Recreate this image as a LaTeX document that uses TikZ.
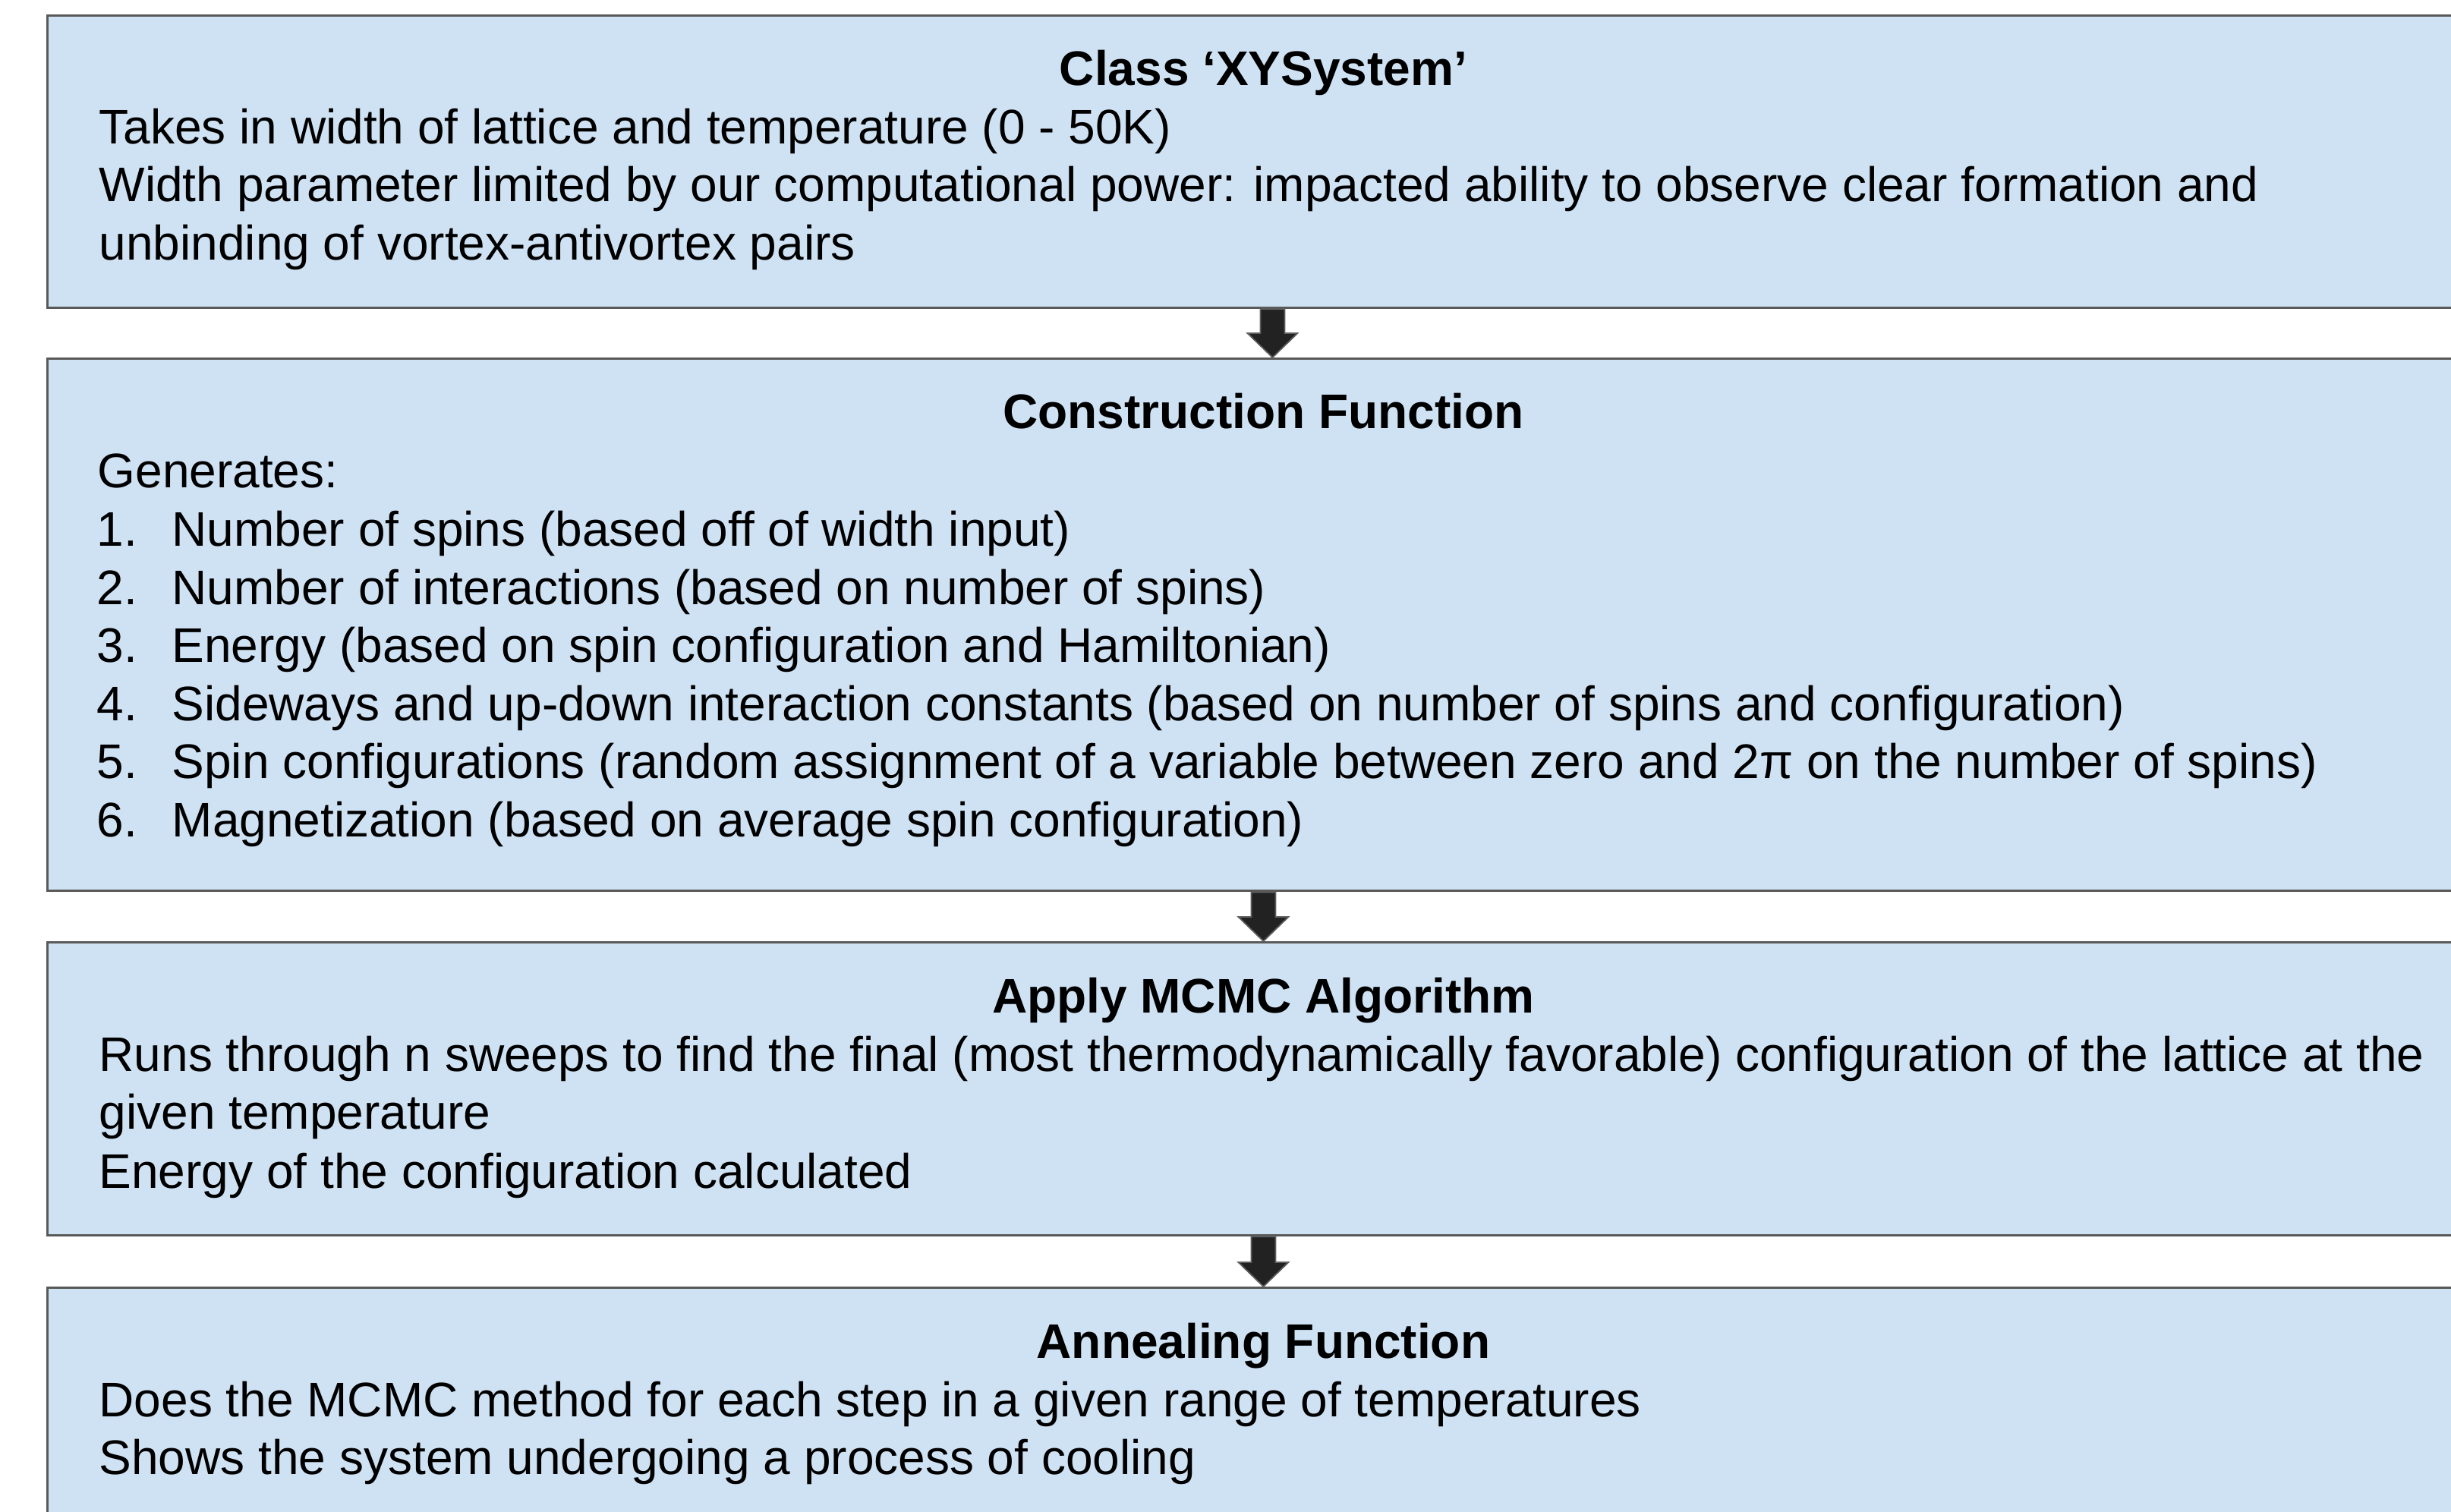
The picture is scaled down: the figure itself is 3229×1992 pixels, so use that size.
\documentclass[tikz,border=0pt]{standalone}
\usepackage{fontspec}
\setmainfont{Liberation Sans}
\usetikzlibrary{calc}
\definecolor{boxfill}{HTML}{CFE2F3}
\definecolor{boxline}{HTML}{595959}
\definecolor{arrowfill}{HTML}{222222}
\definecolor{arrowline}{HTML}{5F5F5F}

% block arrow from the top point #1 down to the tip #2
\newcommand\blockarrow[2]{%
  \filldraw[downarrow]
    ($(#1)+(-16,0)$) -- ($(#1)+(16,0)$) -- ($(#2)+(16,-32)$) -- ($(#2)+(33,-32)$)
    -- (#2) -- ($(#2)+(-33,-32)$) -- ($(#2)+(-16,-32)$) -- cycle;}

\begin{document}
\begin{tikzpicture}[x=0.01cm,y=-0.01cm,
  stage/.style={draw=boxline, fill=boxfill, line width=0.85pt, rectangle,
    inner sep=0pt, anchor=north west, minimum width=32.02cm},
  heading/.style={font=\fontsize{18.2}{21.8}\selectfont\bfseries, anchor=base, inner sep=0pt},
  body/.style={font=\fontsize{18.2}{21.8}\selectfont, anchor=base west, inner sep=0pt},
  downarrow/.style={fill=arrowfill, draw=arrowline, line width=0.5pt, line join=miter}]
\useasboundingbox (0,0) rectangle (3229,1992);
\clip (0,0) rectangle (3229,1992);

% stage boxes
\node[stage, minimum height=3.85cm] (b1) at (61,19) {};
\node[stage, minimum height=7.01cm] (b2) at (61,471) {};
\node[stage, minimum height=3.86cm] (b3) at (61,1240) {};
\node[stage, minimum height=4.2cm]  (b4) at (61,1695) {};

% Class XYSystem
\node[heading] (h1) at ($(b1.north)+(0,94)$) {Class ‘XYSystem’};
\node[body] (t11) at ($(b1.north west)+(69,171)$) {Takes in width of lattice and temperature (0 - 50K)};
\node[body] (t12) at ($(b1.north west)+(69,247)$) {Width parameter limited by our computational power: impacted ability to observe clear formation and};
\node[body] (t13) at ($(b1.north west)+(69,324)$) {unbinding of vortex-antivortex pairs};

% Construction Function
\node[heading] (h2) at ($(b2.north)+(0,94)$) {Construction Function};
\node[body] (t20) at ($(b2.north west)+(67,172)$) {Generates:};
\foreach \n/\txt [count=\i] in {
  1/Number of spins (based off of width input),
  2/Number of interactions (based on number of spins),
  3/Energy (based on spin configuration and Hamiltonian),
  4/Sideways and up-down interaction constants (based on number of spins and configuration),
  5/Spin configurations (random assignment of a variable between zero and 2π on the number of spins),
  6/Magnetization (based on average spin configuration)}{
  \node[body] (n2\i) at ($(b2.north west)+(66,172+76.6*\i)$) {\n.};
  \node[body] (t2\i) at ($(b2.north west)+(165,172+76.6*\i)$) {\txt};
}

% Apply MCMC Algorithm
\node[heading] (h3) at ($(b3.north)+(0,95)$) {Apply MCMC Algorithm};
\node[body] (t31) at ($(b3.north west)+(69,172)$) {Runs through n sweeps to find the final (most thermodynamically favorable) configuration of the lattice at the};
\node[body] (t32) at ($(b3.north west)+(69,248)$) {given temperature};
\node[body] (t33) at ($(b3.north west)+(69,325)$) {Energy of the configuration calculated};

% Annealing Function
\node[heading] (h4) at ($(b4.north)+(0,94)$) {Annealing Function};
\node[body] (t41) at ($(b4.north west)+(69,171)$) {Does the MCMC method for each step in a given range of temperatures};
\node[body] (t42) at ($(b4.north west)+(69,247)$) {Shows the system undergoing a process of cooling};

% connectors
\blockarrow{$(b1.south)+(12,0)$}{$(b2.north)+(12,0)$}
\blockarrow{b2.south}{b3.north}
\blockarrow{b3.south}{b4.north}
\end{tikzpicture}
\end{document}
